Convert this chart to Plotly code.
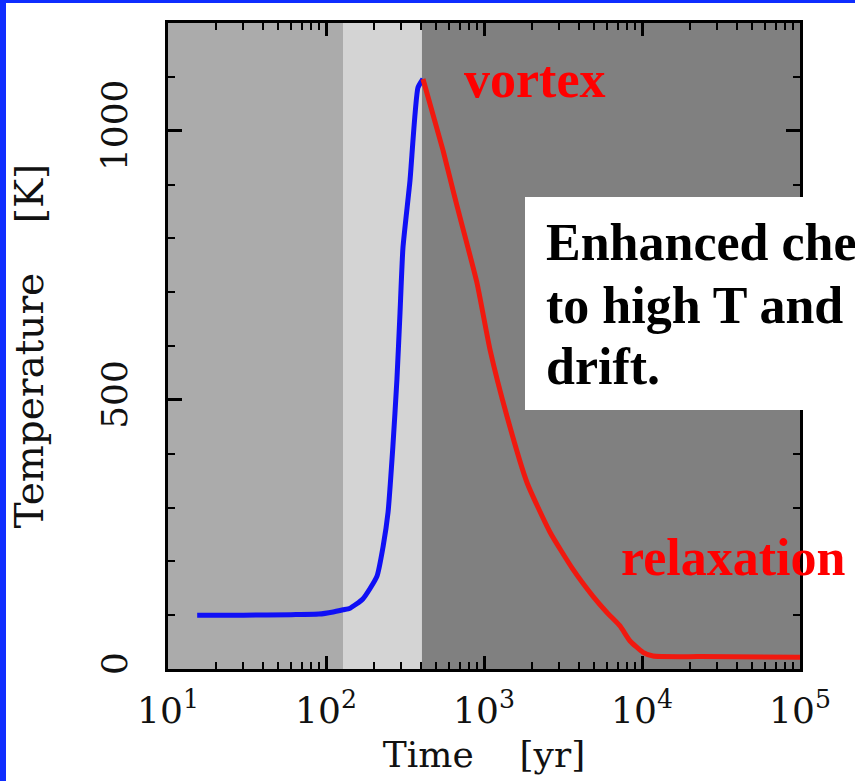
import plotly.graph_objects as go

# ---------------- data ----------------
blue_time = [15.3, 30, 60, 90, 111, 128, 142, 171, 210, 230, 247, 265, 281, 294, 307, 340, 382, 411]
blue_temp = [100, 100, 101, 102, 106, 110, 113, 130, 172, 228, 291, 413, 537, 661, 783, 907, 1080, 1096]

red_time = [411, 551, 637, 705, 903, 1092, 1399, 1873, 2618, 3659, 4898, 6000, 7255, 8400,
            10150, 11750, 23300, 100000]
red_temp = [1096, 963, 889, 839, 717, 593, 469, 346, 254, 185, 135, 105, 80, 52,
            31, 24, 23, 22]

band_edges = [10, 128, 405, 100000]
band_colors = ["#ababab", "#d4d4d4", "#808080"]

x_exponents = [1, 2, 3, 4, 5]
x_tickvals = [10 ** e for e in x_exponents]
x_ticktext = ["10<sup>%d</sup>" % e for e in x_exponents]
x_minor = [k * 10 ** e for e in range(1, 5) for k in range(2, 10)]

y_tickvals = [0, 500, 1000]
y_ticktext = ["0", "500", "1000"]

box_lines = ["Enhanced che", "to high T and", "drift."]

# ---------------- layout geometry (pixels) ----------------
W, H = 855, 781
L, R, T, B = 168, 55, 23, 112
PW, PH = W - L - R, H - T - B


def px2x(px):
    return (px - L) / PW


def py2y(py):
    return (T + PH - py) / PH


fig = go.Figure()

fig.add_trace(go.Scatter(x=blue_time, y=blue_temp, mode="lines",
                         line=dict(color="#1010f5", width=5, shape="spline", smoothing=0.5),
                         showlegend=False))
fig.add_trace(go.Scatter(x=red_time, y=red_temp, mode="lines",
                         line=dict(color="#f0190f", width=5, shape="spline", smoothing=0.5),
                         showlegend=False))

shapes = []
for i, c in enumerate(band_colors):
    shapes.append(dict(type="rect", xref="x", yref="paper",
                       x0=band_edges[i], x1=band_edges[i + 1], y0=0, y1=1,
                       fillcolor=c, line=dict(width=0), layer="below"))

# white text box
shapes.append(dict(type="rect", xref="paper", yref="paper",
                   x0=px2x(525), x1=px2x(870), y0=py2y(410), y1=py2y(197),
                   fillcolor="white", line=dict(width=0), layer="above"))
# blue slide border
shapes.append(dict(type="rect", xref="paper", yref="paper",
                   x0=px2x(0), x1=px2x(6), y0=py2y(H + 5), y1=py2y(-5),
                   fillcolor="#0f2dff", line=dict(width=0), layer="above"))
shapes.append(dict(type="rect", xref="paper", yref="paper",
                   x0=px2x(0), x1=px2x(W + 5), y0=py2y(3), y1=py2y(-5),
                   fillcolor="#0f2dff", line=dict(width=0), layer="above"))

serif_bold = "Liberation Serif, Times New Roman, serif"
annotations = [
    dict(text="<b>vortex</b>", xref="paper", yref="paper", x=px2x(462), y=py2y(79),
         xanchor="left", yanchor="middle", showarrow=False,
         font=dict(family=serif_bold, size=52, color="#ff0000")),
    dict(text="<b>relaxation</b>", xref="paper", yref="paper", x=px2x(619), y=py2y(557),
         xanchor="left", yanchor="middle", showarrow=False,
         font=dict(family=serif_bold, size=52, color="#ff0000")),
]
for line_txt, cy in zip(box_lines, [242, 305, 367]):
    annotations.append(dict(text="<b>%s</b>" % line_txt, xref="paper", yref="paper",
                            x=px2x(544), y=py2y(cy), xanchor="left", yanchor="middle",
                            showarrow=False,
                            font=dict(family=serif_bold, size=52, color="black")))

tick_font = dict(family="DejaVu Serif", size=36, color="#111111")
xtitle_font = dict(family="DejaVu Serif", size=36, color="#111111")
ytitle_font = dict(family="DejaVu Serif", size=39, color="#111111")

fig.update_layout(
    width=W, height=H,
    margin=dict(l=L, r=R, t=T, b=B),
    paper_bgcolor="white", plot_bgcolor="#808080",
    shapes=shapes, annotations=annotations,
    showlegend=False,
)

fig.update_xaxes(
    type="log", range=[1, 5],
    tickmode="array", tickvals=x_tickvals, ticktext=x_ticktext,
    ticks="inside", ticklen=13, tickwidth=2.5, tickcolor="black",
    minor=dict(tickmode="array", tickvals=x_minor, ticks="inside", ticklen=7,
               tickwidth=2, tickcolor="black", showgrid=False),
    showline=True, linecolor="black", linewidth=3, mirror="ticks",
    showgrid=False, zeroline=False,
    tickfont=tick_font, ticklabelstandoff=8,
    title=dict(text="Time\u00a0\u00a0\u00a0\u00a0[yr]", font=xtitle_font, standoff=12),
)
fig.update_yaxes(
    range=[0, 1200],
    tickmode="array", tickvals=y_tickvals, ticktext=y_ticktext, tickangle=-90,
    ticks="inside", ticklen=14, tickwidth=2.5, tickcolor="black",
    minor=dict(dtick=100, ticks="inside", ticklen=7, tickwidth=2,
               tickcolor="black", showgrid=False),
    showline=True, linecolor="black", linewidth=3, mirror="ticks",
    showgrid=False, zeroline=False,
    tickfont=tick_font, ticklabelstandoff=24,
    title=dict(text="Temperature\u00a0\u00a0\u00a0\u00a0[K]", font=ytitle_font, standoff=38),
)

fig.write_html("out.html")
